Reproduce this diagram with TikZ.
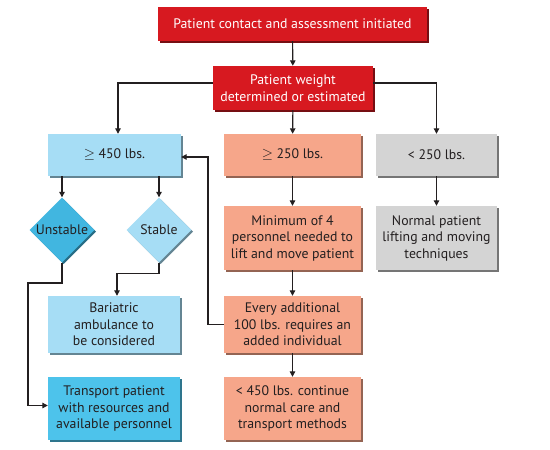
\documentclass[tikz,border=0pt]{standalone}
\usepackage{fontspec}
\setmainfont{PT Sans}
\usetikzlibrary{shapes.geometric,shadows,arrows.meta}
\definecolor{cred}{HTML}{D71920}
\definecolor{clblue}{HTML}{A6DDF5}
\definecolor{cdblue}{HTML}{41B6E0}
\definecolor{ctblue}{HTML}{4DC3EB}
\definecolor{corange}{HTML}{F6A68A}
\definecolor{cgray}{HTML}{D4D4D4}
\definecolor{ctext}{HTML}{231F20}
\tikzset{
  base/.style={rectangle, inner sep=1pt, align=center, font=\fontsize{13.8}{16.5}\selectfont, text=ctext},
  redbox/.style={base, fill=cred, text=white, general shadow={shadow xshift=1.6pt, shadow yshift=-1.6pt, fill=cred!55!black}},
  lbbox/.style={base, fill=clblue, general shadow={shadow xshift=1.6pt, shadow yshift=-1.6pt, fill=clblue!60!black}},
  tbbox/.style={base, fill=ctblue, general shadow={shadow xshift=1.6pt, shadow yshift=-1.6pt, fill=ctblue!60!black}},
  orbox/.style={base, fill=corange, general shadow={shadow xshift=1.6pt, shadow yshift=-1.6pt, fill=corange!60!black}},
  grbox/.style={base, fill=cgray, general shadow={shadow xshift=1.6pt, shadow yshift=-1.6pt, fill=cgray!55!black}},
  dia/.style={diamond, aspect=1, inner sep=0pt, minimum size=65pt, font=\fontsize{13.8}{16.5}\selectfont, text=ctext},
  conn/.style={draw=ctext, line width=1.1pt, -{Triangle[length=5.5pt,width=5.5pt]}},
}
\begin{document}
\begin{tikzpicture}[x=1pt,y=-1pt]
\useasboundingbox (0,0) rectangle (550,450);
\node[redbox, minimum width=269pt, minimum height=34pt] (top) at (292.5,24) {Patient contact and assessment initiated};
\node[redbox, minimum width=160pt, minimum height=44pt] (weight) at (293,88) {Patient weight\\determined or estimated};
\node[lbbox, minimum width=133pt, minimum height=42pt] (heavy) at (114.5,155) {$\geq$ 450 lbs.};
\node[orbox, minimum width=137pt, minimum height=42pt] (mid) at (292.5,155) {$\geq$ 250 lbs.};
\node[grbox, minimum width=121pt, minimum height=42pt] (light) at (436.5,155) {< 250 lbs.};
\node[dia, fill=cdblue, general shadow={shadow xshift=1.6pt, shadow yshift=-1.6pt, fill=cdblue!60!black}] (unstable) at (62,230) {Unstable};
\node[dia, fill=clblue, general shadow={shadow xshift=1.6pt, shadow yshift=-1.6pt, fill=clblue!60!black}] (stable) at (159,230) {Stable};
\node[orbox, minimum width=137pt, minimum height=64pt] (min4) at (292.5,238) {Minimum of 4\\personnel needed to\\lift and move patient};
\node[grbox, minimum width=121pt, minimum height=64pt] (normal) at (436.5,238) {Normal patient\\lifting and moving\\techniques};
\node[lbbox, minimum width=132pt, minimum height=57pt] (bari) at (114,324.5) {Bariatric\\ambulance to\\be considered};
\node[orbox, minimum width=137pt, minimum height=57pt] (every) at (292.5,324.5) {Every additional\\100 lbs. requires an\\added individual};
\node[tbbox, minimum width=132pt, minimum height=63pt] (transport) at (114,408.5) {Transport patient\\with resources and\\available personnel};
\node[orbox, minimum width=137pt, minimum height=63pt] (less) at (292.5,408.5) {< 450 lbs. continue\\normal care and\\transport methods};
\coordinate (ubend) at (28,283);
\coordinate (fbx) at (208,0);
\draw[conn] (top) -- (weight);
\draw[conn] ([yshift=5pt]weight.west) -| ([xshift=3.5pt]heavy.north);
\draw[conn] ([yshift=5pt]weight.east) -| (light.north);
\draw[conn] (weight) -- (mid);
\draw[conn] (heavy.south -| unstable.north) -- (unstable.north);
\draw[conn] (heavy.south -| stable.north) -- (stable.north);
\draw[conn] (stable.south) -- ++(0,11) -| ([xshift=3pt]bari.north);
\draw[conn] (unstable.south) |- (ubend) |- ([yshift=3pt]transport.west);
\draw[conn] (mid) -- (min4);
\draw[conn] (light) -- (normal);
\draw[conn] (min4) -- (every);
\draw[conn] (every) -- (less);
\draw[conn] (every.west) -- (every.west -| fbx) |- ([yshift=-2pt]heavy.east);
\end{tikzpicture}
\end{document}
